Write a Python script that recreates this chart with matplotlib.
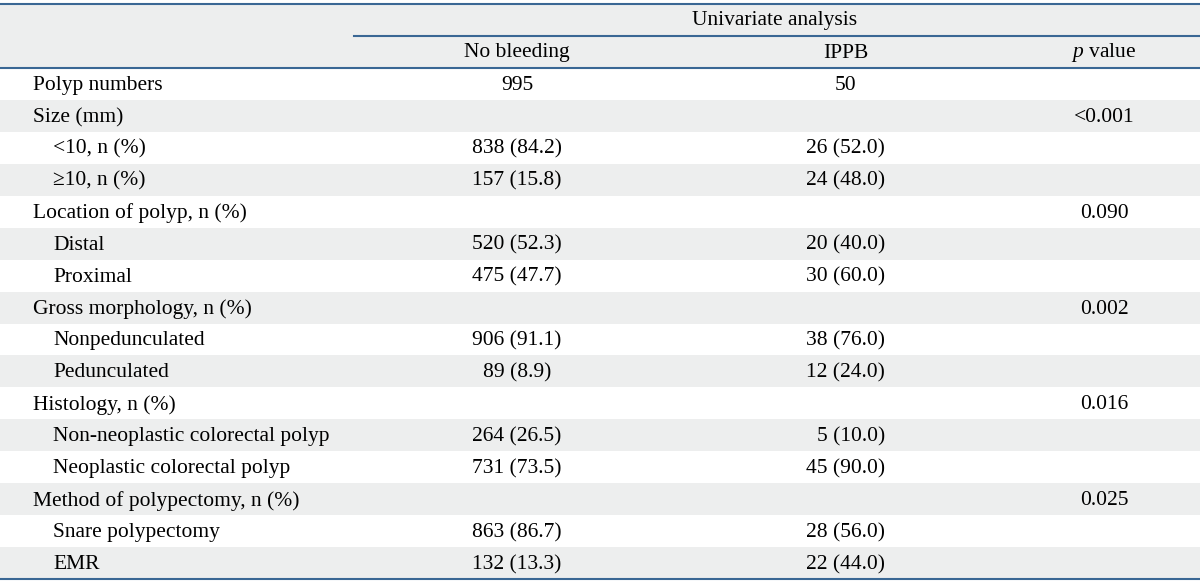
import matplotlib.pyplot as plt

# table content
row_labels = [
    "Polyp numbers", "Size (mm)", "<10, n (%)", "\u226510, n (%)",
    "Location of polyp, n (%)", "Distal", "Proximal",
    "Gross morphology, n (%)", "Nonpedunculated", "Pedunculated",
    "Histology, n (%)", "Non-neoplastic colorectal polyp", "Neoplastic colorectal polyp",
    "Method of polypectomy, n (%)", "Snare polypectomy", "EMR",
]
indented = [False, False, True, True, False, True, True, False, True, True,
            False, True, True, False, True, True]
no_bleeding = ["995", "", "838 (84.2)", "157 (15.8)", "", "520 (52.3)", "475 (47.7)",
               "", "906 (91.1)", "89 (8.9)", "", "264 (26.5)", "731 (73.5)",
               "", "863 (86.7)", "132 (13.3)"]
ippb = ["50", "", "26 (52.0)", "24 (48.0)", "", "20 (40.0)", "30 (60.0)",
        "", "38 (76.0)", "12 (24.0)", "", "5 (10.0)", "45 (90.0)",
        "", "28 (56.0)", "22 (44.0)"]
p_values = ["", "<0.001", "", "", "0.090", "", "", "0.002", "", "", "0.016", "", "",
            "0.025", "", ""]

W, H = 1200, 581
GRAY = "#edeeee"
LINE = "#3a6794"
FS = 15.5
plt.rcParams["font.family"] = ["Liberation Serif", "DejaVu Serif"]
plt.rcParams["mathtext.fontset"] = "custom"
plt.rcParams["mathtext.it"] = "Liberation Serif:italic"
plt.rcParams["mathtext.rm"] = "Liberation Serif"

fig = plt.figure(figsize=(W / 100, H / 100), dpi=100)
ax = fig.add_axes([0, 0, 1, 1])
ax.set_xlim(0, W)
ax.set_ylim(H, 0)
ax.axis("off")

top, head1, head2 = 4, 36, 68
row_h = (579 - head2) / len(row_labels)

# header
ax.axhspan(top, head2, color=GRAY, lw=0)
ax.text(775, (top + head1) / 2 + 1, "Univariate analysis", ha="center", va="center", fontsize=FS)
ax.text(517, (head1 + head2) / 2 + 1, "No bleeding", ha="center", va="center", fontsize=FS)
ax.text(846, (head1 + head2) / 2 + 1, "IPPB", ha="center", va="center", fontsize=FS)
ax.text(1104, (head1 + head2) / 2 + 1, r"$p$ value", ha="center", va="center", fontsize=FS)

for i, label in enumerate(row_labels):
    y0 = head2 + i * row_h
    if i % 2 == 1:
        ax.axhspan(y0, y0 + row_h, color=GRAY, lw=0)
    yc = y0 + row_h / 2 + 1.5
    ax.text(53 if indented[i] else 33, yc, label, ha="left", va="center", fontsize=FS)
    ax.text(517, yc, no_bleeding[i], ha="center", va="center", fontsize=FS)
    if "(" in ippb[i]:
        ax.text(885, yc, ippb[i], ha="right", va="center", fontsize=FS)
    else:
        ax.text(846, yc, ippb[i], ha="center", va="center", fontsize=FS)
    ax.text(1104, yc, p_values[i], ha="center", va="center", fontsize=FS)

# rules
ax.plot([0, W], [top, top], color=LINE, lw=1.5)
ax.plot([354, W], [head1, head1], color=LINE, lw=1.5)
ax.plot([0, W], [head2, head2], color=LINE, lw=1.5)
ax.plot([0, W], [579, 579], color=LINE, lw=1.5)

fig.savefig("out.png", dpi=100)
